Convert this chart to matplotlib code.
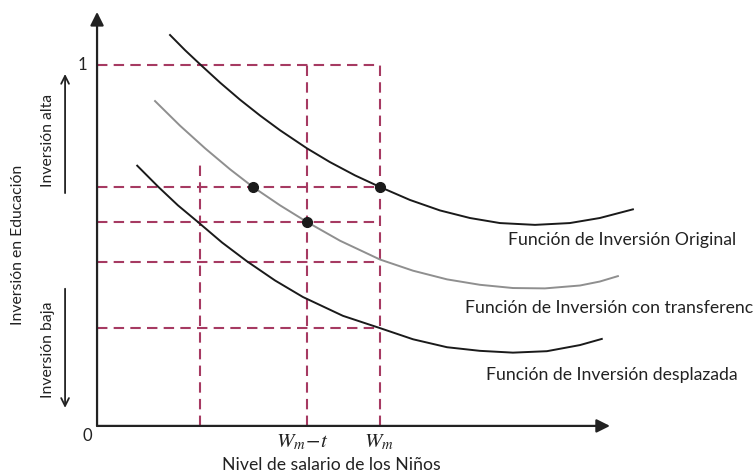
#!/usr/bin/python3
import matplotlib
matplotlib.use('Agg')
import matplotlib.pyplot as pyplot

pyplot.rcParams['font.family'] = ['Lato', 'DejaVu Sans']
pyplot.rcParams['mathtext.fontset'] = 'stix'

# ------------------------------------------------------------------------------
# Data (wage level, investment level), wage unit: W_m = 1
#
original_x = [0.258, 0.311, 0.364, 0.435, 0.505, 0.576, 0.647, 0.742, 0.823,
              0.912, 1.000, 1.106, 1.212, 1.318, 1.424, 1.548, 1.671, 1.777,
              1.894]
original_y = [1.083, 1.041, 1.002, 0.951, 0.904, 0.860, 0.819, 0.769, 0.731,
              0.694, 0.662, 0.626, 0.597, 0.576, 0.562, 0.557, 0.562, 0.576,
              0.600]

transfer_x = [0.205, 0.293, 0.382, 0.470, 0.551, 0.647, 0.742, 0.859, 1.000,
              1.117, 1.237, 1.353, 1.470, 1.583, 1.707, 1.777, 1.841]
transfer_y = [0.900, 0.832, 0.769, 0.711, 0.662, 0.611, 0.565, 0.513, 0.461,
              0.430, 0.406, 0.391, 0.382, 0.381, 0.389, 0.400, 0.415]

shifted_x = [0.142, 0.217, 0.286, 0.358, 0.442, 0.530, 0.629, 0.728, 0.869,
             1.000, 1.117, 1.237, 1.353, 1.470, 1.590, 1.707, 1.784]
shifted_y = [0.721, 0.662, 0.611, 0.564, 0.508, 0.456, 0.403, 0.357, 0.305,
             0.271, 0.240, 0.218, 0.208, 0.203, 0.207, 0.224, 0.241]

guide_levels = [1.0, 0.662, 0.565, 0.454, 0.271]
guide_wages = [0.364, 0.742, 1.0]
guide_tops = [0.729, 1.0, 1.0]

dots_x = [0.551, 0.742, 1.0]
dots_y = [0.662, 0.565, 0.662]

curve_labels = [
    'Función de Inversión Original',
    'Función de Inversión con transferencia',
    'Función de Inversión desplazada',
]

text_color = '#222222'
guide_color = '#a63a62'

# ------------------------------------------------------------------------------
# Figure
#
(figure, axes) = pyplot.subplots(figsize=(7.54, 4.75), dpi=100)
axes.set_position([0, 0, 1, 1])
axes.set_xlim(-0.343, 2.322)
axes.set_ylim(-0.136, 1.180)
axes.axis('off')

                                                                 # dashed guides
for level in guide_levels:
    axes.plot([0, 1.0], [level, level], color=guide_color, linewidth=1.5,
              linestyle=(0, (5, 3)), zorder=1)
for (wage, top) in zip(guide_wages, guide_tops):
    axes.plot([wage, wage], [0, top], color=guide_color, linewidth=1.5,
              linestyle=(0, (5, 3)), zorder=1)

                                                                        # curves
axes.plot(original_x, original_y, color='#1a1a1a', linewidth=1.4, zorder=2)
axes.plot(transfer_x, transfer_y, color='#8f8f8f', linewidth=1.4, zorder=2)
axes.plot(shifted_x, shifted_y, color='#1a1a1a', linewidth=1.4, zorder=2)
axes.plot(dots_x, dots_y, 'o', color='#1a1a1a', markersize=7, zorder=3)

                                                                          # axes
axes.annotate('', xy=(1.813, 0), xytext=(0, 0),
              arrowprops=dict(arrowstyle='-|>', color='#222222', lw=1.6,
                              mutation_scale=20, shrinkA=0, shrinkB=0))
axes.annotate('', xy=(0, 1.147), xytext=(0, 0),
              arrowprops=dict(arrowstyle='-|>', color='#222222', lw=1.6,
                              mutation_scale=20, shrinkA=0, shrinkB=0))

                                                                        # labels
axes.text(-0.053, 1.0, '1', fontsize=12, color=text_color,
          ha='center', va='center')
axes.text(-0.035, -0.028, '0', fontsize=12, color=text_color,
          ha='center', va='center')
axes.text(0.726, -0.044, r'$W_m\!-\!t$', fontsize=15, color=text_color,
          ha='center', va='center')
axes.text(0.996, -0.044, r'$W_m$', fontsize=15, color=text_color,
          ha='center', va='center')
axes.text(0.830, -0.108, 'Nivel de salario de los Niños', fontsize=12.7,
          color=text_color, ha='center', va='center')
axes.text(-0.279, 0.501, 'Inversión en Educación', fontsize=11.3,
          color=text_color, ha='center', va='center', rotation=90)
axes.text(-0.173, 0.792, 'Inversión alta', fontsize=11.3,
          color=text_color, ha='center', va='center', rotation=90)
axes.text(-0.173, 0.211, 'Inversión baja', fontsize=11.3,
          color=text_color, ha='center', va='center', rotation=90)
axes.annotate('', xy=(-0.113, 0.975), xytext=(-0.113, 0.645),
              arrowprops=dict(arrowstyle='->', color='#222222', lw=1.3,
                              mutation_scale=14, shrinkA=0, shrinkB=0))
axes.annotate('', xy=(-0.113, 0.050), xytext=(-0.113, 0.380),
              arrowprops=dict(arrowstyle='->', color='#222222', lw=1.3,
                              mutation_scale=14, shrinkA=0, shrinkB=0))

                                     # the middle label runs off the right edge,
                                     # as it does in the reference
for (label, x, y) in zip(curve_labels, [1.452, 1.300, 1.375],
                         [0.515, 0.327, 0.141]):
    axes.text(x, y, label, fontsize=12.7, color=text_color,
              ha='left', va='center')

pyplot.savefig('out.png', dpi=100)
